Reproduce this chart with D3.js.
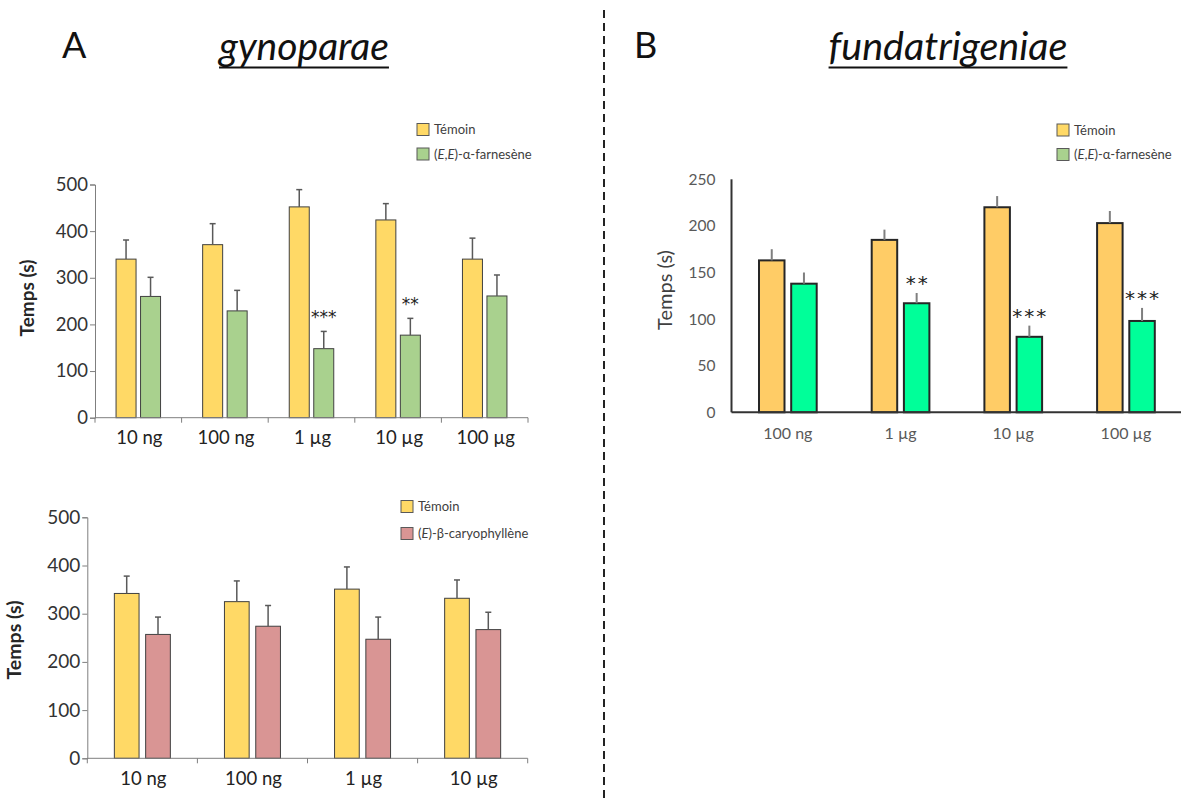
<!DOCTYPE html>
<html>
<head>
<meta charset="utf-8">
<script src="https://cdn.jsdelivr.net/npm/d3@7"></script>
<style>
  body { margin: 0; background: #fff; }
  svg { display: block; font-family: Lato, 'Open Sans', sans-serif; }
</style>
</head>
<body>
<div id="app"></div>
<script>
// Data
const dosesA = ['10 ng', '100 ng', '1 µg', '10 µg', '100 µg'];
const temoinA = [340, 371, 452, 424, 340];
const temoinAErr = [381, 416, 489, 459, 385];
const farnA = [260, 229, 148, 177, 261];
const farnAErr = [301, 273, 185, 213, 306];
const starsA = ['', '', '***', '**', ''];

const dosesC = ['10 ng', '100 ng', '1 µg', '10 µg'];
const temoinC = [342, 325, 351, 332];
const temoinCErr = [378, 368, 397, 370];
const caryoC = [257, 274, 247, 267];
const caryoCErr = [293, 317, 293, 303];

const dosesB = ['100 ng', '1 µg', '10 µg', '100 µg'];
const temoinB = [163, 185, 220, 203];
const temoinBErr = [175, 196, 232, 216];
const farnB = [138, 117, 81, 98];
const farnBErr = [150, 128, 93, 112];
const starsB = ['', '**', '***', '***'];

const ticksA = [0, 100, 200, 300, 400, 500];
const ticksB = [0, 50, 100, 150, 200, 250];

const width = 1181;
const height = 798;

const svg = d3.select('#app')
  .append('svg')
  .attr('width', width)
  .attr('height', height);

// Draw one grouped bar chart
function drawChart(cfg) {
  const g = svg.append('g');
  const x = d3.scaleBand().domain(cfg.cats).range(cfg.xRange);
  const y = d3.scaleLinear().domain(cfg.yDomain).range(cfg.yRange);
  const bw = cfg.barW;
  const pair = bw * 2 + cfg.gap;
  const x0 = (c) => x(c) + (x.bandwidth() - pair) / 2;

  if (cfg.styleB) {
    // y axis, no tick marks
    g.append('line')
      .attr('x1', cfg.xRange[0]).attr('x2', cfg.xRange[0])
      .attr('y1', y(cfg.yDomain[1])).attr('y2', y(0))
      .attr('stroke', '#333').attr('stroke-width', 2);
    g.selectAll('.ytick')
      .data(cfg.ticks)
      .join('text')
      .attr('x', cfg.xRange[0] - 16)
      .attr('y', (d) => y(d) + 5.5)
      .attr('text-anchor', 'end')
      .attr('font-size', cfg.tickFont)
      .attr('fill', '#595959')
      .text((d) => d);
  } else {
    const yAxis = d3.axisLeft(y).tickValues(cfg.ticks).tickSize(5).tickPadding(2);
    const ya = g.append('g')
      .attr('transform', `translate(${cfg.xRange[0]},0)`)
      .call(yAxis);
    ya.select('.domain').attr('stroke', '#7f7f7f');
    ya.selectAll('.tick line').attr('stroke', '#7f7f7f');
    ya.selectAll('.tick text')
      .attr('font-size', cfg.tickFont)
      .attr('font-family', 'Lato, sans-serif')
      .attr('fill', '#333');
  }

  // bars
  const series = [
    { vals: cfg.s1, err: cfg.s1Err, color: cfg.c1, off: 0 },
    { vals: cfg.s2, err: cfg.s2Err, color: cfg.c2, off: bw + cfg.gap },
  ];
  series.forEach((s) => {
    g.append('g').selectAll('rect')
      .data(cfg.cats)
      .join('rect')
      .attr('x', (c) => x0(c) + s.off)
      .attr('y', (c, i) => y(s.vals[i]))
      .attr('width', bw)
      .attr('height', (c, i) => y(0) - y(s.vals[i]))
      .attr('fill', s.color)
      .attr('stroke', cfg.barStroke)
      .attr('stroke-width', cfg.barStrokeW);
    // error bars (upper only)
    const eg = g.append('g');
    eg.selectAll('line.v')
      .data(cfg.cats)
      .join('line')
      .attr('x1', (c) => x0(c) + s.off + bw / 2)
      .attr('x2', (c) => x0(c) + s.off + bw / 2)
      .attr('y1', (c, i) => y(s.vals[i]))
      .attr('y2', (c, i) => y(s.err[i]))
      .attr('stroke', cfg.errColor)
      .attr('stroke-width', cfg.errW);
    if (cfg.cap) {
      eg.selectAll('line.cap')
        .data(cfg.cats)
        .join('line')
        .attr('class', 'cap')
        .attr('x1', (c) => x0(c) + s.off + bw / 2 - cfg.cap)
        .attr('x2', (c) => x0(c) + s.off + bw / 2 + cfg.cap)
        .attr('y1', (c, i) => y(s.err[i]))
        .attr('y2', (c, i) => y(s.err[i]))
        .attr('stroke', cfg.errColor)
        .attr('stroke-width', cfg.errW);
    }
  });

  // significance stars
  if (cfg.stars) {
    g.selectAll('.star')
      .data(cfg.cats)
      .join('text')
      .attr('x', (c) => x0(c) + bw + cfg.gap + bw / 2 + cfg.starSpacing / 2)
      .attr('y', (c, i) => y(cfg.s2Err[i]) - cfg.starLift)
      .attr('text-anchor', 'middle')
      .attr('font-family', "'DejaVu Sans', sans-serif")
      .attr('font-size', cfg.starFont)
      .attr('letter-spacing', cfg.starSpacing)
      .attr('fill', '#222')
      .text((c, i) => cfg.stars[i]);
  }

  // x axis
  g.append('line')
    .attr('x1', cfg.xRange[0]).attr('x2', cfg.xRange[1])
    .attr('y1', y(0)).attr('y2', y(0))
    .attr('stroke', cfg.styleB ? '#333' : '#7f7f7f')
    .attr('stroke-width', cfg.styleB ? 2 : 1);
  if (!cfg.styleB) {
    const bounds = cfg.cats.map((c) => x(c)).concat([cfg.xRange[1]]);
    g.selectAll('.xtick')
      .data(bounds)
      .join('line')
      .attr('x1', (d) => d).attr('x2', (d) => d)
      .attr('y1', y(0)).attr('y2', y(0) + 5)
      .attr('stroke', '#7f7f7f');
  }
  g.selectAll('.xlab')
    .data(cfg.cats)
    .join('text')
    .attr('x', (c) => x(c) + x.bandwidth() / 2 + (cfg.styleB ? 0 : 1))
    .attr('y', cfg.xLabY)
    .attr('text-anchor', 'middle')
    .attr('font-size', cfg.xFont)
    .attr('fill', cfg.styleB ? '#595959' : '#222')
    .text((c) => c);

  // y label
  g.append('text')
    .attr('transform', `translate(${cfg.yLab[0]},${cfg.yLab[1]}) rotate(-90)`)
    .attr('text-anchor', 'middle')
    .attr('font-size', cfg.yLabFont)
    .attr('font-weight', cfg.styleB ? 400 : 700)
    .attr('fill', cfg.styleB ? '#404040' : '#262626')
    .text('Temps (s)');

  // legend
  const lg = g.append('g');
  cfg.legend.forEach((name, i) => {
    lg.append('rect')
      .attr('x', cfg.legPos[0])
      .attr('y', cfg.legPos[1] + i * cfg.legStep)
      .attr('width', 12).attr('height', 12)
      .attr('fill', cfg.legColors[i])
      .attr('stroke', '#595959');
    const t = lg.append('text')
      .attr('x', cfg.legPos[0] + 17)
      .attr('y', cfg.legPos[1] + i * cfg.legStep + 10.5)
      .attr('font-size', 13)
      .attr('fill', '#404040');
    name.forEach((part) => {
      t.append('tspan').attr('font-style', part[1] ? 'italic' : 'normal').text(part[0]);
    });
  });
}

drawChart({
  cats: dosesA, s1: temoinA, s1Err: temoinAErr, s2: farnA, s2Err: farnAErr,
  xRange: [95, 528], yRange: [417.7, 184.5], yDomain: [0, 500], ticks: ticksA,
  barW: 20, gap: 4.5, c1: '#FFD966', c2: '#A9D18E',
  barStroke: '#404040', barStrokeW: 1, errColor: '#595959', errW: 1.5, cap: 3,
  stars: starsA, starLift: 8, starFont: 17, starSpacing: 0,
  tickFont: 18.5, xFont: 18.5, xLabY: 444, yLab: [34, 298], yLabFont: 19,
  legend: [[['Témoin', false]], [['(', false], ['E', true], [',', false], ['E', true], [')-α-farnesène', false]]],
  legColors: ['#FFD966', '#A9D18E'], legPos: [417, 123.5], legStep: 24.5,
});

drawChart({
  cats: dosesC, s1: temoinC, s1Err: temoinCErr, s2: caryoC, s2Err: caryoCErr,
  xRange: [87.3, 527.7], yRange: [758.3, 517.3], yDomain: [0, 500], ticks: ticksA,
  barW: 24.7, gap: 6.6, c1: '#FFD966', c2: '#D99594',
  barStroke: '#404040', barStrokeW: 1, errColor: '#595959', errW: 1.5, cap: 3,
  stars: null,
  tickFont: 19, xFont: 18.5, xLabY: 785, yLab: [21, 640], yLabFont: 19.5,
  legend: [[['Témoin', false]], [['(', false], ['E', true], [')-β-caryophyllène', false]]],
  legColors: ['#FFD966', '#D99594'], legPos: [401, 500.5], legStep: 27,
});

drawChart({
  cats: dosesB, s1: temoinB, s1Err: temoinBErr, s2: farnB, s2Err: farnBErr,
  xRange: [731.5, 1182.3], yRange: [412.3, 179.3], yDomain: [0, 250], ticks: ticksB,
  barW: 25.5, gap: 6.7, c1: '#FFCC66', c2: '#00FF99', styleB: true,
  barStroke: '#262626', barStrokeW: 2, errColor: '#7f7f7f', errW: 2, cap: 0,
  stars: starsB, starLift: 3, starFont: 20, starSpacing: 2,
  tickFont: 15.5, xFont: 16, xLabY: 439, yLab: [672, 290], yLabFont: 20,
  legend: [[['Témoin', false]], [['(', false], ['E', true], [',', false], ['E', true], [')-α-farnesène', false]]],
  legColors: ['#FFD966', '#A9D18E'], legPos: [1057, 124], legStep: 24.5,
});

// Titles
function title(letter, lx, name, cx, size) {
  svg.append('text')
    .attr('x', lx).attr('y', 58)
    .attr('font-size', 36)
    .attr('fill', '#111')
    .text(letter);
  const t = svg.append('text')
    .attr('x', cx).attr('y', 60)
    .attr('text-anchor', 'middle')
    .attr('font-size', size)
    .attr('font-style', 'italic')
    .attr('fill', '#111')
    .text(name);
  const w = t.node().getComputedTextLength();
  svg.append('line')
    .attr('x1', cx - w / 2).attr('x2', cx + w / 2)
    .attr('y1', 67.5).attr('y2', 67.5)
    .attr('stroke', '#111').attr('stroke-width', 2);
}
title('A', 62, 'gynoparae', 304, 39);
title('B', 634, 'fundatrigeniae', 948, 39.5);

// Divider
svg.append('line')
  .attr('x1', 604).attr('x2', 604)
  .attr('y1', 10).attr('y2', 798)
  .attr('stroke', '#222')
  .attr('stroke-width', 2)
  .attr('stroke-dasharray', '8,5');
</script>
</body>
</html>
